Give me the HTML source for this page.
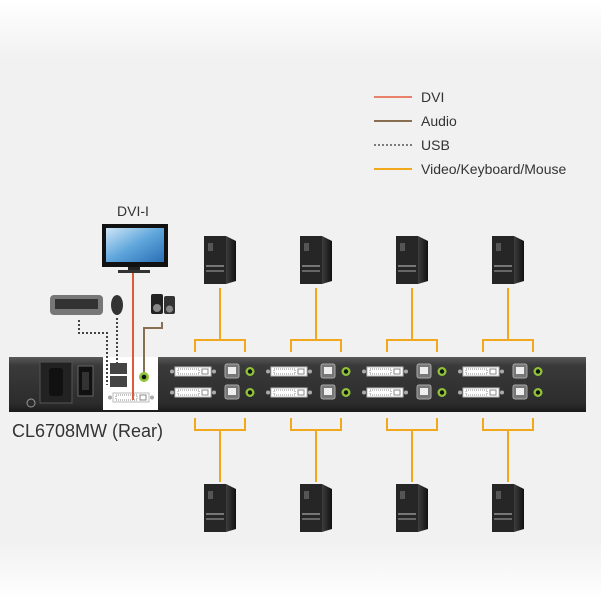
<!DOCTYPE html>
<html><head><meta charset="utf-8"><style>
html,body{margin:0;padding:0;background:#fff}
svg{display:block}
text{font-family:"Liberation Sans",sans-serif}
</style></head><body>
<svg width="601" height="601" viewBox="0 0 601 601" xmlns="http://www.w3.org/2000/svg">
<defs>
<linearGradient id="bg" x1="0" y1="0" x2="0" y2="1">
<stop offset="0" stop-color="#fff"/><stop offset="0.1" stop-color="#f1f1f1"/><stop offset="0.9" stop-color="#f1f1f1"/><stop offset="1" stop-color="#fff"/></linearGradient>
<linearGradient id="bar" x1="0" y1="0" x2="0" y2="1">
<stop offset="0" stop-color="#5a5a5a"/><stop offset="0.15" stop-color="#3a3a3a"/><stop offset="0.85" stop-color="#2c2c2c"/><stop offset="1" stop-color="#1a1a1a"/></linearGradient>
<linearGradient id="pc" x1="0" y1="0" x2="1" y2="0">
<stop offset="0" stop-color="#2a2a2a"/><stop offset="0.6" stop-color="#4a4a4a"/><stop offset="1" stop-color="#111"/></linearGradient>
<linearGradient id="scr" x1="0" y1="0" x2="1" y2="1">
<stop offset="0" stop-color="#cfe6f7"/><stop offset="0.5" stop-color="#5fa6dc"/><stop offset="1" stop-color="#2a6fb4"/></linearGradient>
<g id="comp">
<polygon points="-16,-23 6,-23 16,-18 16,22 6,25 -16,23" fill="url(#pc)"/>
<rect x="-16" y="-23" width="22" height="48" fill="#262626"/>
<rect x="-12" y="-16" width="5" height="8" fill="#555"/>
<rect x="-14" y="6" width="18" height="2" fill="#777"/>
<rect x="-14" y="11" width="18" height="2" fill="#666"/>
</g>
<g id="dvi">
<circle cx="-3" cy="4.5" r="2" fill="#aaa"/>
<rect x="0" y="0" width="36" height="9" fill="#fff" stroke="#bbb"/>
<rect x="3" y="2" width="21" height="5" fill="none" stroke="#888" stroke-width="1" stroke-dasharray="1,1"/>
<rect x="27" y="2" width="6" height="5" fill="none" stroke="#888"/>
<circle cx="39" cy="4.5" r="2" fill="#aaa"/>
</g>
<g id="port">
<use href="#dvi"/>
<rect x="50" y="-3" width="14" height="14" rx="2" fill="#777" stroke="#aaa"/>
<rect x="53" y="0" width="8" height="7" fill="#eee"/>
<circle cx="75" cy="4.5" r="4.5" fill="#8fc43a"/>
<circle cx="75" cy="4.5" r="2.2" fill="#111"/>
</g>
<g id="grp">
<use href="#comp" x="0" y="259"/>
<path d="M0 288 V340 M-25 352 V340 H25 V352" fill="none" stroke="#f2a81d" stroke-width="2"/>
<path d="M-25 418 V430 H25 V418 M0 430 V482" fill="none" stroke="#f2a81d" stroke-width="2"/>
<use href="#comp" x="0" y="507"/>
<use href="#port" x="-45" y="367"/>
<use href="#port" x="-45" y="388"/>
</g>
</defs>
<rect width="601" height="601" fill="url(#bg)"/>
<!-- legend -->
<line x1="374" y1="97" x2="412" y2="97" stroke="#e8806a" stroke-width="2"/>
<line x1="374" y1="121" x2="412" y2="121" stroke="#8a6e52" stroke-width="2"/>
<line x1="374" y1="145" x2="412" y2="145" stroke="#555" stroke-width="1.5" stroke-dasharray="2,2"/>
<line x1="374" y1="169" x2="412" y2="169" stroke="#f2a81d" stroke-width="2"/>
<g font-size="14" fill="#333">
<text x="421" y="102">DVI</text><text x="421" y="126">Audio</text><text x="421" y="150">USB</text><text x="421" y="174">Video/Keyboard/Mouse</text>
</g>
<!-- device bar -->
<rect x="9" y="357" width="577" height="55" fill="url(#bar)"/>
<rect x="40" y="362" width="32" height="41" fill="#222" stroke="#555"/>
<rect x="49" y="368" width="14" height="28" rx="3" fill="#111"/>
<rect x="78" y="366" width="15" height="30" fill="#111" stroke="#666"/>
<rect x="82" y="372" width="7" height="18" fill="#333"/>
<circle cx="31" cy="403" r="4" fill="none" stroke="#999"/>
<rect x="103" y="357" width="55" height="53" fill="#fff"/>
<rect x="110" y="363" width="17" height="11" fill="#444"/>
<rect x="110" y="376" width="17" height="11" fill="#444"/>
<circle cx="144" cy="377" r="5" fill="#8fc43a"/><circle cx="144" cy="377" r="2.3" fill="#111"/>
<use href="#dvi" x="113" y="393"/>
<use href="#grp" x="220"/>
<use href="#grp" x="316"/>
<use href="#grp" x="412"/>
<use href="#grp" x="508"/>
<!-- monitor -->
<rect x="102" y="224" width="66" height="43" fill="#111"/>
<rect x="106" y="228" width="58" height="34" fill="url(#scr)"/>
<rect x="128" y="267" width="12" height="3" fill="#222"/>
<rect x="118" y="270" width="32" height="3" fill="#333"/>
<text x="133" y="216" font-size="14" fill="#333" text-anchor="middle">DVI-I</text>
<!-- keyboard, mouse, speakers -->
<rect x="50" y="295" width="53" height="20" rx="4" fill="#777"/>
<rect x="55" y="299" width="43" height="10" fill="#333"/>
<ellipse cx="117" cy="305" rx="6" ry="10" fill="#333"/>
<rect x="151" y="294" width="12" height="20" rx="2" fill="#222"/>
<rect x="164" y="296" width="11" height="18" rx="2" fill="#333"/>
<circle cx="157" cy="308" r="4" fill="#888"/><circle cx="169.5" cy="309" r="3.5" fill="#888"/>
<!-- cables -->
<line x1="133" y1="273" x2="133" y2="400" stroke="#e05a3a" stroke-width="2"/>
<path d="M162 322 V328 H144 V372" fill="none" stroke="#8a6e52" stroke-width="2"/>
<path d="M79 320 V333 H107 V385" fill="none" stroke="#444" stroke-width="2" stroke-dasharray="2,2"/>
<path d="M117 318 V366" fill="none" stroke="#444" stroke-width="2" stroke-dasharray="2,2"/>
<text x="12" y="437" font-size="18" fill="#333">CL6708MW (Rear)</text>
</svg>
</body></html>
